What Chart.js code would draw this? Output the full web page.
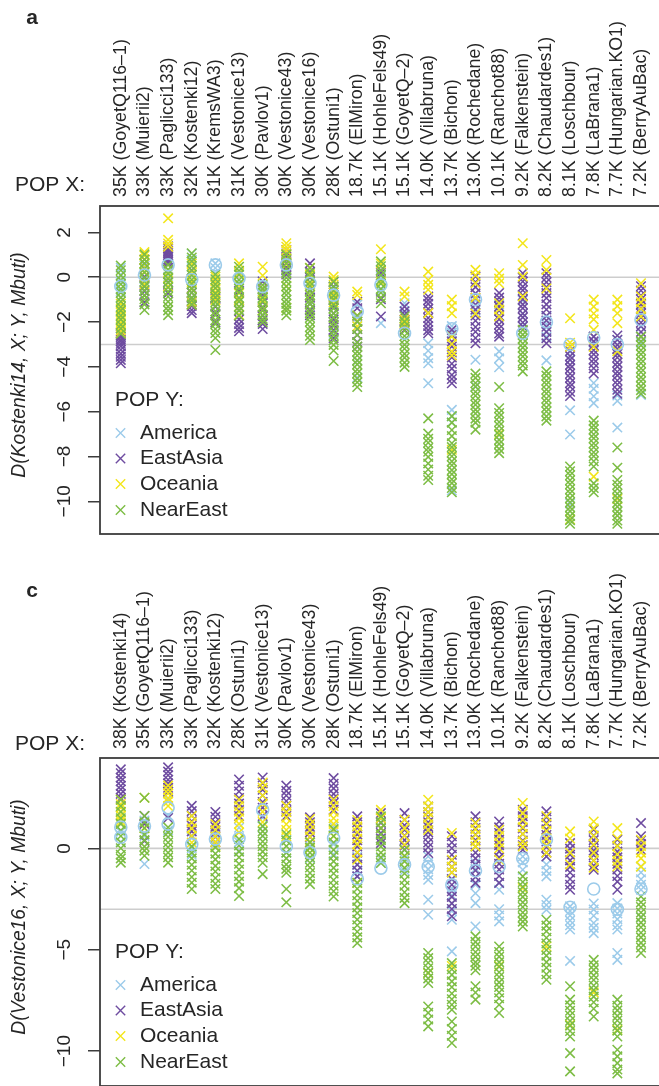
<!DOCTYPE html>
<html><head><meta charset="utf-8">
<script src="https://cdn.jsdelivr.net/npm/chart.js@4"></script>
<style>
html,body{margin:0;padding:0;background:#fff;overflow:hidden;width:659px;height:1086px;position:relative}
canvas{position:absolute;left:0}
#ca{top:0}
#cc{top:552px}
</style></head><body>
<canvas id="ca" width="680" height="548"></canvas>
<canvas id="cc" width="680" height="548"></canvas>
<script>
// ---------- categories (POP X) ----------
const categoriesA = ["35K (GoyetQ116\u20131)","33K (Muierii2)","33K (Paglicci133)","32K (Kostenki12)","31K (KremsWA3)","31K (Vestonice13)","30K (Pavlov1)","30K (Vestonice43)","30K (Vestonice16)","28K (Ostuni1)","18.7K (ElMiron)","15.1K (HohleFels49)","15.1K (GoyetQ\u20132)","14.0K (Villabruna)","13.7K (Bichon)","13.0K (Rochedane)","10.1K (Ranchot88)","9.2K (Falkenstein)","8.2K (Chaudardes1)","8.1K (Loschbour)","7.8K (LaBrana1)","7.7K (Hungarian.KO1)","7.2K (BerryAuBac)"];
const categoriesC = ["38K (Kostenki14)","35K (GoyetQ116\u20131)","33K (Muierii2)","33K (Paglicci133)","32K (Kostenki12)","28K (Ostuni1)","31K (Vestonice13)","30K (Pavlov1)","30K (Vestonice43)","28K (Ostuni1)","18.7K (ElMiron)","15.1K (HohleFels49)","15.1K (GoyetQ\u20132)","14.0K (Villabruna)","13.7K (Bichon)","13.0K (Rochedane)","10.1K (Ranchot88)","9.2K (Falkenstein)","8.2K (Chaudardes1)","8.1K (Loschbour)","7.8K (LaBrana1)","7.7K (Hungarian.KO1)","7.2K (BerryAuBac)"];

// ---------- panel a values (one list per POP X column) ----------
const aAmerica = [
 [0.42,0.12,-0.18,-0.62,-0.88],[0.52,0.22,-0.08],[0.92,0.33,0.02],[1.05,0.78,0.12,-0.32],[0.62,0.41,0.18,-0.27],
 [0.21,-0.28,-0.63],[-0.18,-0.61,-0.93],[0.83,0.29],[0.03,-0.52,-1.04],[-0.47,-1.18,-2.52],
 [-1.22,-1.81,-3.72,-4.48],[0.04,-0.58,-2.05],[-1.16,-1.62,-2.21],[-2.95,-3.28,-3.61,-3.84,-4.73],
 [-2.18,-2.47,-5.92,-6.21,-6.48,-9.52],[-1.02,-1.49,-3.68,-4.87],[-1.21,-3.31,-3.62,-4.02],[-1.03,-1.62,-2.18],
 [-1.75,-2.08,-2.41,-2.66,-3.71],[-3.32,-3.68,-5.94,-7.02,-10.1],[-2.65,-2.92,-4.72,-4.98,-5.31,-5.62],
 [-2.81,-3.3,-5.28,-5.52,-6.71,-9.88],[-1.52,-2.21,-2.92,-5.25]
];
const aEastAsia = [
 [-2.48,-2.57,-2.66,-2.78,-2.86,-2.97,-3.08,-3.24,-3.41,-3.55,-3.69,-3.84],
 [0.78,0.41,0.02,-0.36,-0.62,-0.81,-1.12],
 [1.38,1.29,1.18,1.09,0.98,0.9,0.79,0.71,0.62,-0.22,-0.71],
 [0.31,-0.48,-0.69,-0.92,-1.1,-1.28,-1.46,-1.6],
 [-0.79,-0.88,-0.97,-1.31,-1.62,-2.01],
 [-0.61,-1.02,-1.48,-1.71,-1.88,-2.09,-2.26,-2.41],
 [-0.19,-0.52,-0.79,-1.12,-1.38,-1.71,-1.92,-2.08,-2.31],
 [1.22,1.06,0.91,0.76,0.62,0.44,0.31,0.12],
 [0.62,0.24,-0.02,-0.31,-0.58,-0.91,-1.19,-1.48,-1.7],
 [-0.21,-0.42,-0.68,-1.02,-1.29,-1.61,-1.88,-2.12,-2.36,-2.71],
 [-1.1,-1.38,-1.72,-1.98,-2.31,-2.58,-2.89,-3.1],
 [0.31,0.19,-0.98,-1.75],
 [-1.31,-1.52,-1.69,-1.92,-2.11,-2.35],
 [-0.86,-1.02,-1.19,-1.41,-1.58,-1.82,-1.99,-2.18,-2.36,-2.5],
 [-2.35,-2.58,-2.87,-3.09,-3.36,-3.58,-3.86,-4.08,-4.36,-4.54,-4.73],
 [0.03,-0.21,-0.44,-0.72,-0.93,-1.22,-1.44,-1.71,-1.94,-2.22,-2.43,-2.71,-2.95],
 [-0.7,-0.91,-1.08,-1.31,-1.49,-1.72,-1.88,-2.11,-2.29,-2.51,-2.65],
 [0.18,-0.02,-0.19,-0.42,-0.58,-0.81,-0.99,-1.21,-1.38,-1.62,-1.79,-2.02,-2.2],
 [0.18,-0.01,-0.22,-0.44,-0.71,-0.93,-1.21,-1.44,-1.72,-1.93,-2.21,-2.44,-2.72,-2.95],
 [-3.1,-3.29,-3.52,-3.69,-3.91,-4.08,-4.31,-4.49,-4.72,-4.88,-5.11,-5.3],
 [-2.65,-2.86,-3.04,-3.26,-3.44,-3.66,-3.84,-4.06,-4.3],
 [-2.6,-2.79,-3.02,-3.19,-3.42,-3.58,-3.81,-3.99,-4.22,-4.38,-4.61,-4.79,-5.02,-5.2],
 [-0.4,-0.59,-0.82,-0.99,-1.21,-1.39,-1.62,-1.79,-2.02,-2.19,-2.44,-2.65]
];
const aOceania = [
 [-1.18,-1.41,-1.58,-1.76,-1.92,-2.04,-2.21,-2.36,-2.49],[1.12,0.96,0.79,0.61,0.42,0.24,-0.31],
 [2.63,1.67,1.51,1.36,0.21,-0.02,-0.41],[0.61,0.19,-0.22,-0.51,-1.09,-1.21],[0.02,-0.19,-0.36,-0.51,-0.66,-0.81,-1.02],
 [0.62,0.18,-0.36,-0.71,-1.02,-1.31,-1.68],[0.47,0.08,-0.52,-1.01,-1.48],[1.52,1.36,1.21,1.04,0.81,0.58,-0.39,-1.36],
 [0.42,0.11,-0.31,-0.79],[0.03,-0.12,-0.68,-0.91,-1.12],[-0.64,-0.79,-1.71,-1.96,-2.19],[1.25,0.61,-0.21],
 [-0.64,-0.86,-1.89,-2.06,-2.21],[0.25,-0.12,-0.34,-0.56,-1.6],[-1.0,-1.29,-1.61,-2.65,-2.98,-3.31,-3.49,-7.7],
 [0.33,0.09,-0.27,-0.91,-1.62],[0.18,-0.06,-0.27,-1.16,-1.44,-1.75,-7.0],[1.52,0.55,0.03,-0.86],[0.77,0.33,-0.5],
 [-1.83,-2.92,-3.1,-10.8],[-1.0,-1.31,-1.62,-1.88,-2.35,-3.1,-8.9],[-1.0,-1.29,-1.61,-2.05,-3.3,-9.9],[-0.27,-0.86,-1.12,-1.41,-1.75]
];
const aNearEast = [
 [0.52,0.31,0.08,-0.12,-0.31,-0.52,-0.69,-0.91,-1.08,-1.32,-1.49,-1.71,-1.88,-2.12,-2.29,-2.52],
 [1.02,0.79,0.62,0.38,0.21,-0.02,-0.19,-0.42,-0.58,-0.81,-0.98,-1.21,-1.46],
 [0.55,0.34,0.16,-0.06,-0.24,-0.46,-0.64,-0.87,-1.09,-1.31,-1.48,-1.69],
 [1.07,0.88,0.71,0.49,0.31,0.09,-0.11,-0.29,-0.52,-0.69,-0.91,-1.04,-1.21],
 [0.12,-0.09,-0.31,-0.48,-0.72,-0.89,-1.11,-1.28,-1.52,-1.69,-1.91,-2.08,-2.31,-2.49,-2.71,-3.25],
 [0.47,0.29,0.11,-0.12,-0.29,-0.51,-0.68,-0.92,-1.09,-1.31,-1.48,-1.71],
 [-0.35,-0.52,-0.69,-0.91,-1.09,-1.32,-1.49,-1.68,-1.86,-2.01],
 [1.01,0.79,0.61,0.38,0.21,-0.02,-0.19,-0.41,-0.62,-0.79,-1.01,-1.19,-1.36,-1.49,-1.7],
 [0.41,0.19,0.02,-0.21,-0.39,-0.62,-0.79,-1.02,-1.19,-1.42,-1.59,-1.81,-1.99,-2.22,-2.39,-2.61,-2.8],
 [-0.19,-0.41,-0.59,-0.82,-0.99,-1.22,-1.39,-1.61,-1.79,-2.02,-2.19,-2.42,-2.59,-2.81,-3.02,-3.27,-3.74],
 [-1.71,-1.98,-2.31,-2.58,-2.91,-3.09,-3.32,-3.49,-3.71,-3.89,-4.12,-4.29,-4.52,-4.69,-4.9],
 [0.71,0.49,0.31,0.09,-0.12,-0.29,-0.52,-0.69,-0.91,-1.16],
 [-1.75,-1.98,-2.21,-2.39,-2.62,-2.79,-3.01,-3.19,-3.42,-3.59,-3.81,-4.0],
 [-6.3,-6.98,-7.21,-7.39,-7.62,-7.79,-8.02,-8.31,-8.58,-8.86,-9.05],
 [-6.2,-6.49,-6.82,-7.09,-7.41,-7.58,-7.81,-7.99,-8.22,-8.39,-8.61,-8.79,-9.02,-9.19,-9.41,-9.6],
 [-4.3,-4.49,-4.72,-4.89,-5.11,-5.29,-5.52,-5.69,-5.91,-6.08,-6.31,-6.49,-6.8],
 [-4.9,-5.85,-6.06,-6.24,-6.46,-6.64,-6.86,-7.04,-7.26,-7.44,-7.66,-7.85],
 [-2.35,-2.56,-2.74,-2.96,-3.14,-3.36,-3.54,-3.76,-3.94,-4.2],
 [-4.2,-4.39,-4.61,-4.79,-5.01,-5.19,-5.41,-5.59,-5.81,-5.99,-6.21,-6.4],
 [-8.45,-8.66,-8.84,-9.06,-9.24,-9.46,-9.64,-9.86,-10.04,-10.26,-10.44,-10.66,-10.84,-11.0],
 [-6.4,-6.61,-6.79,-7.01,-7.19,-7.41,-7.59,-7.81,-7.99,-8.21,-8.45,-9.2,-9.41,-9.6],
 [-7.6,-8.5,-9.05,-9.26,-9.44,-9.66,-9.84,-10.06,-10.24,-10.46,-10.64,-10.86,-11.0],
 [-2.65,-2.86,-3.04,-3.26,-3.44,-3.66,-3.84,-4.06,-4.24,-4.46,-4.64,-4.86,-5.04,-5.2]
];
const aCircles = [[-0.4],[0.1],[0.55],[-0.1],[0.55],[-0.05],[-0.42],[0.55],[-0.27],[-0.8],[-1.53],[-0.34],[-2.5],[],[-2.3],[-1.0],[],[-2.5],[-2.0],[-3.0],[-2.7],[-3.0],[-1.9]];

// ---------- panel c values ----------
const cAmerica = [
 [1.62,1.28,0.81,0.32],[1.38,0.61,-0.77],[2.41,1.62,0.88],[0.52,0.02,-0.31],[0.71,0.18],[1.02,0.31,-0.12],
 [2.21,1.52,1.08,0.61],[0.42,-0.21],[0.12,-0.48],[1.08,0.21,-0.29],[-0.41,-0.79,-1.12,-1.38],[-0.52,-0.72],
 [-0.51,-1.09],[-0.4,-0.71,-1.02,-1.31,-1.55,-2.53,-3.27],[-1.55,-1.98,-2.31,-2.72,-3.09,-3.52,-5.08],
 [-0.72,-1.01,-1.42,-1.79,-2.21,-2.7,-3.85],[-1.7,-2.04,-3.0,-3.31,-3.6],[-0.4,-0.69,-1.05],
 [-0.4,-0.79,-1.11,-1.38,-2.53,-2.79,-3.03],[-2.86,-3.09,-3.31,-3.56,-3.79,-4.0,-5.55],
 [-2.72,-3.01,-3.32,-3.68,-3.92,-4.18],[-2.7,-2.96,-3.21,-3.49,-3.79,-4.0,-5.16,-5.5],[-0.9,-1.19,-1.52,-1.79,-2.04,-3.4]
];
const cEastAsia = [
 [3.9,3.71,3.49,3.31,3.09,2.91,2.69,2.48],[1.6,1.21,0.37],[4.0,3.79,3.61,3.39,3.21,2.99,2.79,1.5],
 [2.1,1.84,1.61,1.34,1.12,0.84,0.61],[1.8,1.56,1.29,1.06,0.79,0.56,0.31],[3.4,3.09,2.81,2.49,2.21,1.89,1.6],
 [3.5,3.21,2.89,2.61,2.29,2.01,1.6],[3.1,2.84,2.61,2.34,2.11,1.84,1.6],[1.53,1.29,1.06,0.79,0.56,0.3],
 [3.47,3.19,2.96,2.69,2.46,2.24,1.91],[1.58,1.29,1.01,0.69,0.41,0.09,-0.21,-0.49,-0.81,-1.09,-1.38],
 [1.74,1.49,1.26,0.99,0.76,0.49,0.26],[1.74,1.41,1.14,0.91,0.64,0.41,0.14,-0.07],
 [2.07,1.79,1.56,1.29,1.06,0.79,0.56,0.29,0.06,-0.23],
 [0.6,0.29,0.01,-0.31,-0.59,-0.91,-1.19,-1.51,-1.79,-2.11,-2.39,-2.71,-2.99,-3.35],
 [1.58,1.29,1.01,0.69,0.41,0.09,-0.21,-0.49,-0.81,-1.09,-1.41,-1.7],
 [1.33,1.04,0.76,0.44,0.16,-0.16,-0.44,-0.76,-1.04,-1.36,-1.7],
 [1.9,1.59,1.31,0.99,0.71,0.39,0.16,-0.07],[1.83,1.54,1.26,0.94,0.66,0.34,0.06,-0.21,-0.4],
 [0.26,-0.01,-0.31,-0.59,-0.91,-1.19,-1.51,-1.79,-2.04],[0.92,0.64,0.41,0.14,-0.11,-0.34,-0.61,-0.84,-1.05],
 [0.43,0.14,-0.16,-0.44,-0.76,-1.04,-1.36,-1.64,-2.04],[1.25,0.6,0.39,0.21,-0.07]
];
const cOceania = [
 [2.4,2.19,2.01,1.79,1.61,1.39,1.28],[2.5,1.0],[3.1,2.89,2.71,2.49,2.31,2.09],[1.6,1.29,0.99,0.61,0.29],
 [1.2,0.91,0.59,0.31,0.09],[2.4,2.09,1.81,1.49,1.21,0.79],[3.25,2.99,2.61,2.19,1.81,1.3],[2.1,1.79,1.51,1.19,0.91,0.6],
 [1.45,1.19,0.91,0.59,0.31,0.01],[2.4,2.09,1.81,1.49,1.21,0.89,0.6],[1.4,1.09,0.81,0.49,0.21,-0.19,-0.56,-1.7],
 [1.9,1.49,1.01],[1.41,0.99,0.61,0.19,-0.4],[2.4,2.07,1.79,1.51,1.19,0.91,-6.15],[0.76,-0.56,-0.91,-1.19,-5.8],
 [1.25,0.94,0.66,0.34,0.1],[0.92,0.61,0.29,0.01,-0.56,-5.8],[2.24,1.74,1.41,1.04,0.71,0.34,0.1,-1.95],
 [1.6,1.19,0.86,0.49,0.16,-0.21,-4.84],[0.84,0.49,-0.21,-0.79,-8.7],[1.33,0.99,0.61,0.19,-0.21,-0.59,-0.95,-7.1],
 [1.0,0.49,0.11,-0.29,-0.61,-0.89,-8.95],[0.43,0.11,-0.21,-0.49,-0.9]
];
const cNearEast = [
 [2.4,2.09,1.81,1.49,1.21,0.89,0.61,0.29,0.01,-0.31,-0.49,-0.7],[2.5,1.6,1.29,1.01,0.69,0.41,0.09,-0.11,-0.36],
 [1.04,0.79,0.56,0.29,0.06,-0.21,-0.44,-0.7],[0.1,-0.21,-0.49,-0.81,-1.09,-1.41,-1.69,-2.0],
 [0.05,-0.26,-0.54,-0.86,-1.14,-1.46,-1.74,-2.0],[0.46,0.14,-0.16,-0.44,-0.76,-1.04,-1.36,-1.64,-1.96,-2.35],
 [1.1,0.84,0.61,0.34,0.11,-0.16,-0.44,-0.71,-1.27],[0.7,0.39,0.11,-0.21,-0.49,-0.79,-1.01,-1.2,-2.0,-2.66],
 [0.3,0.04,-0.21,-0.44,-0.71,-0.94,-1.21,-1.49,-1.76],[0.95,0.61,0.29,-0.07,-0.36,-0.64,-0.96,-1.24,-1.56,-1.84,-2.11,-2.37],
 [-1.7,-1.99,-2.31,-2.59,-2.91,-3.19,-3.51,-3.79,-4.11,-4.39,-4.67],[1.58,1.29,1.01,0.69,0.41,0.09,-0.21,-0.44,-0.72],
 [-0.07,-0.36,-0.64,-0.96,-1.24,-1.56,-1.84,-2.16,-2.44,-2.7],
 [-5.16,-5.41,-5.64,-5.91,-6.14,-6.41,-6.64,-7.8,-8.11,-8.44,-8.78],
 [-5.66,-5.96,-6.24,-6.56,-6.84,-7.16,-7.44,-7.71,-7.96,-8.54,-8.91,-9.24,-9.6],
 [-4.34,-4.61,-4.84,-5.11,-5.34,-5.61,-5.79,-6.01,-6.8,-7.11,-7.46],
 [-4.84,-5.11,-5.34,-5.61,-5.84,-6.11,-6.34,-6.61,-6.84,-7.11,-7.39,-7.71,-8.12],
 [-1.38,-1.66,-1.89,-2.16,-2.39,-2.66,-2.89,-3.16,-3.39,-3.61,-3.85],
 [-3.52,-3.81,-4.09,-4.41,-4.69,-5.01,-5.29,-5.61,-5.89,-6.21,-6.48],
 [-6.8,-7.46,-7.74,-8.01,-8.24,-8.51,-8.74,-9.01,-9.28,-10.1,-11.0],
 [-5.5,-5.76,-5.99,-6.26,-6.49,-6.76,-6.99,-7.31,-7.59,-7.91,-8.29],
 [-7.46,-7.76,-7.99,-8.26,-8.49,-8.76,-8.99,-9.28,-9.93,-10.26,-10.59,-10.91,-11.1],
 [-2.37,-2.66,-2.89,-3.16,-3.39,-3.66,-3.89,-4.16,-4.39,-4.66,-4.89,-5.16]
];
const cCircles = [[0.55,1.05],[1.1],[2.0,1.2],[0.2],[0.46],[0.5],[1.9],[0.1],[-0.2],[0.5],[-1.5],[-0.97],[-0.8],[-0.9],[-1.8],[-1.1],[-0.9],[-0.5],[0.43],[-2.9],[-2.0],[-3.0],[-2.0]];

// ---------- ticks / reference lines / legend ----------
const yTicksA = [2,0,-2,-4,-6,-8,-10];
const yTicksC = [0,-5,-10];
const refLines = [0,-3];
const seriesNames = ["America","EastAsia","Oceania","NearEast"];
const seriesColors = ["#9ccbea","#6e4ca0","#f3e61c","#7dbd45"];

const FONT = '"Liberation Sans", Arial, Helvetica, sans-serif';
const TXT = '#262626';

function toPoints(cols){const p=[];cols.forEach((arr,i)=>arr.forEach(v=>p.push({x:i+1,y:v})));return p;}
function fmt(v){return v<0?'\u2212'+Math.abs(v):String(v);}
function cross(ctx,x,y,h){ctx.beginPath();ctx.moveTo(x-h,y-h);ctx.lineTo(x+h,y+h);ctx.moveTo(x-h,y+h);ctx.lineTo(x+h,y-h);ctx.stroke();}

const panelPlugin = {
  id:'panel',
  beforeDatasetsDraw(chart,args,o){
    const {ctx,chartArea:a,scales:{y}}=chart;
    ctx.save();ctx.strokeStyle='#cdcdcd';ctx.lineWidth=1.6;
    o.refLines.forEach(v=>{const py=y.getPixelForValue(v);ctx.beginPath();ctx.moveTo(a.left,py);ctx.lineTo(a.right,py);ctx.stroke();});
    ctx.restore();
  },
  afterDraw(chart,args,o){
    const {ctx,chartArea:a,scales:{x,y}}=chart;
    ctx.save();
    ctx.strokeStyle='#3c3c3c';ctx.lineWidth=1.8;
    ctx.strokeRect(a.left,a.top,a.right-a.left,a.bottom-a.top);
    ctx.fillStyle=TXT;
    ctx.font='bold 21px '+FONT;ctx.textAlign='center';ctx.textBaseline='middle';
    ctx.fillText(o.letter,32,o.letterY);
    ctx.font='21px '+FONT;ctx.textAlign='left';ctx.textBaseline='alphabetic';
    ctx.fillText('POP X:',15,o.popXBase);
    ctx.font='17.8px '+FONT;
    o.categories.forEach((lab,i)=>{const px=x.getPixelForValue(i+1);ctx.save();ctx.translate(px,a.top-9);ctx.rotate(-Math.PI/2);ctx.textAlign='left';ctx.textBaseline='middle';ctx.fillText(lab,0,0);ctx.restore();});
    ctx.font='19px '+FONT;
    y.ticks.forEach(t=>{const py=y.getPixelForValue(t.value);ctx.save();ctx.translate(65,py);ctx.rotate(-Math.PI/2);ctx.textAlign='center';ctx.textBaseline='middle';ctx.fillText(fmt(t.value),0,0);ctx.restore();});
    ctx.font='italic 19.3px '+FONT;
    ctx.save();ctx.translate(20,(a.top+a.bottom)/2-5);ctx.rotate(-Math.PI/2);ctx.textAlign='center';ctx.textBaseline='middle';ctx.fillText(o.yTitle,0,0);ctx.restore();
    // legend
    ctx.font='21px '+FONT;ctx.textAlign='left';ctx.textBaseline='middle';
    ctx.fillText('POP Y:',115,a.top+194);
    const offs=[227,252.5,278,304];
    seriesNames.forEach((n,i)=>{
      ctx.strokeStyle=seriesColors[i];ctx.lineWidth=1.4;cross(ctx,120.5,a.top+offs[i],4.7);
      ctx.fillStyle=TXT;ctx.fillText(n,140,a.top+offs[i]);
    });
    ctx.restore();
  }
};

function makeChart(id,cats,series,circles,yMin,yMax,yTicks,o){
  const ds=series.map((s,i)=>({label:seriesNames[i],data:toPoints(s),pointStyle:'crossRot',pointRadius:6.7,pointHoverRadius:6.7,
      borderColor:seriesColors[i],backgroundColor:seriesColors[i],borderWidth:1.55,pointBorderWidth:1.55,showLine:false,order:5-i}));
  ds.push({label:'America',data:toPoints(circles),pointStyle:'circle',pointRadius:6,pointHoverRadius:6,borderColor:seriesColors[0],
      backgroundColor:'rgba(0,0,0,0)',borderWidth:1.6,pointBorderWidth:1.6,showLine:false,order:0});
  return new Chart(document.getElementById(id),{
    type:'scatter',
    data:{datasets:ds},
    options:{
      responsive:false,animation:false,devicePixelRatio:1,events:[],
      layout:{padding:{left:0,top:0,right:680-661.8,bottom:548-534}},
      plugins:{legend:{display:false},tooltip:{enabled:false},panel:Object.assign({categories:cats,refLines:refLines},o)},
      scales:{
        x:{type:'linear',position:'top',min:0.12,max:23.88,
           afterBuildTicks:s=>{s.ticks=cats.map((c,i)=>({value:i+1}));},
           afterFit:s=>{s.height=206;},
           ticks:{display:false},grid:{display:false,drawTicks:false},border:{display:false}},
        y:{type:'linear',position:'left',min:yMin,max:yMax,
           afterBuildTicks:s=>{s.ticks=yTicks.map(v=>({value:v}));},
           afterFit:s=>{s.width=100;},
           ticks:{display:false},
           grid:{display:true,drawOnChartArea:false,drawTicks:true,tickLength:12,color:'#3c3c3c',lineWidth:1.5},
           border:{display:false}}
      }
    },
    plugins:[panelPlugin]
  });
}

makeChart('ca',categoriesA,[aAmerica,aEastAsia,aOceania,aNearEast],aCircles,-11.46,3.18,yTicksA,
  {letter:'a',letterY:18,popXBase:191,yTitle:'D(Kostenki14, X; Y, Mbuti)'});
makeChart('cc',categoriesC,[cAmerica,cEastAsia,cOceania,cNearEast],cCircles,-11.72,4.46,yTicksC,
  {letter:'c',letterY:39,popXBase:198,yTitle:'D(Vestonice16, X; Y, Mbuti)'});
</script>
</body></html>
